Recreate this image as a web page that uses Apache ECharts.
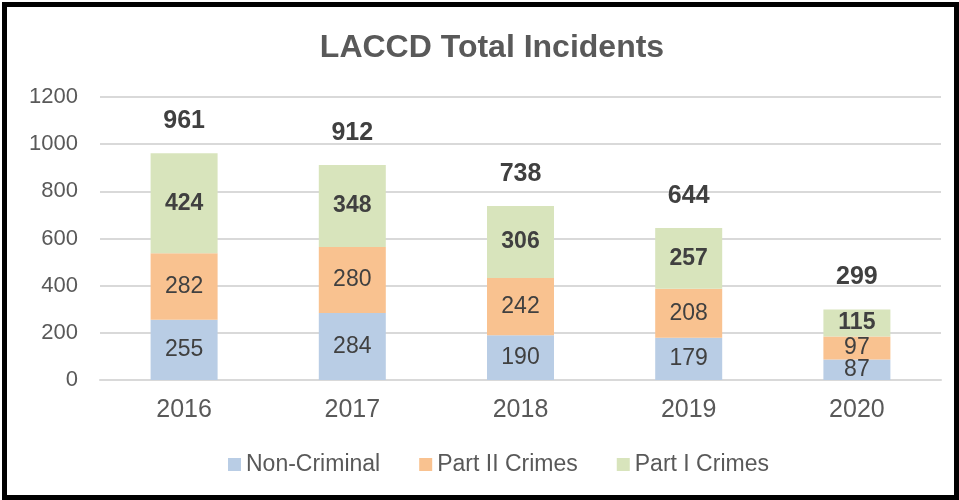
<!DOCTYPE html>
<html><head><meta charset="utf-8">
<script src="https://cdn.jsdelivr.net/npm/echarts@6/dist/echarts.min.js"></script>
<style>
html,body{margin:0;padding:0;background:#fff;}
#frame{position:absolute;left:2px;top:2px;width:947px;height:488px;border:5px solid #000;}
#c{position:absolute;left:0;top:0;width:959px;height:500px;}
</style></head>
<body><div id="frame"></div><div id="c"></div>
<script>
const categories = ['2016','2017','2018','2019','2020'];
const nonCriminal = [255, 284, 190, 179, 87];
const partII = [282, 280, 242, 208, 97];
const partI = [424, 348, 306, 257, 115];
const totals = [961, 912, 738, 644, 299];
const yTicks = [0, 200, 400, 600, 800, 1000, 1200];

const font = '"Liberation Sans", Arial, sans-serif';
const chart = echarts.init(document.getElementById('c'), null, {renderer:'canvas'});
const lbl = (bold) => ({show:true, position:'inside', color:'#404040', fontSize:23, fontFamily:font, fontWeight: bold?'bold':'normal'});
chart.setOption({
  animation:false,
  title:{text:'LACCD Total Incidents', left:487, textAlign:'center', top:27,
    textStyle:{fontFamily:font, fontSize:32, fontWeight:'bold', color:'#595959'}},
  grid:{left:100, right:18, top:97, bottom:120, containLabel:false},
  legend:{data:['Non-Criminal','Part II Crimes','Part I Crimes'], top:448, left:223,
    itemWidth:13, itemHeight:13, itemGap:39, icon:'rect',
    textStyle:{fontFamily:font, fontSize:23, color:'#595959'}},
  xAxis:{type:'category', data:categories,
    axisLine:{lineStyle:{color:'#d9d9d9', width:2}}, axisTick:{show:false},
    axisLabel:{fontFamily:font, fontSize:25, color:'#595959', margin:18}},
  yAxis:{type:'value', min:0, max:1200, interval:200,
    axisLine:{show:false}, axisTick:{show:false},
    splitLine:{lineStyle:{color:'#d9d9d9', width:2}},
    axisLabel:{fontFamily:font, fontSize:22, color:'#595959', margin:22,
      formatter:(v)=> yTicks.includes(v) ? String(v) : ''}},
  series:[
    {name:'Non-Criminal', type:'bar', stack:'a', data:nonCriminal, barWidth:67,
     itemStyle:{color:'#B9CDE5'}, label:lbl(false)},
    {name:'Part II Crimes', type:'bar', stack:'a', data:partII, barWidth:67,
     itemStyle:{color:'#F9C290'}, label:lbl(false)},
    {name:'Part I Crimes', type:'bar', stack:'a', data:partI, barWidth:67,
     itemStyle:{color:'#D8E4BC'}, label:lbl(true)},
    {name:'Total', type:'line', data:totals, symbol:'circle', symbolSize:1, showSymbol:true,
     itemStyle:{color:'rgba(0,0,0,0)'}, lineStyle:{opacity:0}, silent:true, z:10,
     label:{show:true, position:'top', distance:19, color:'#404040', fontSize:25, fontFamily:font, fontWeight:'bold'}}
  ]
});
</script></body></html>
